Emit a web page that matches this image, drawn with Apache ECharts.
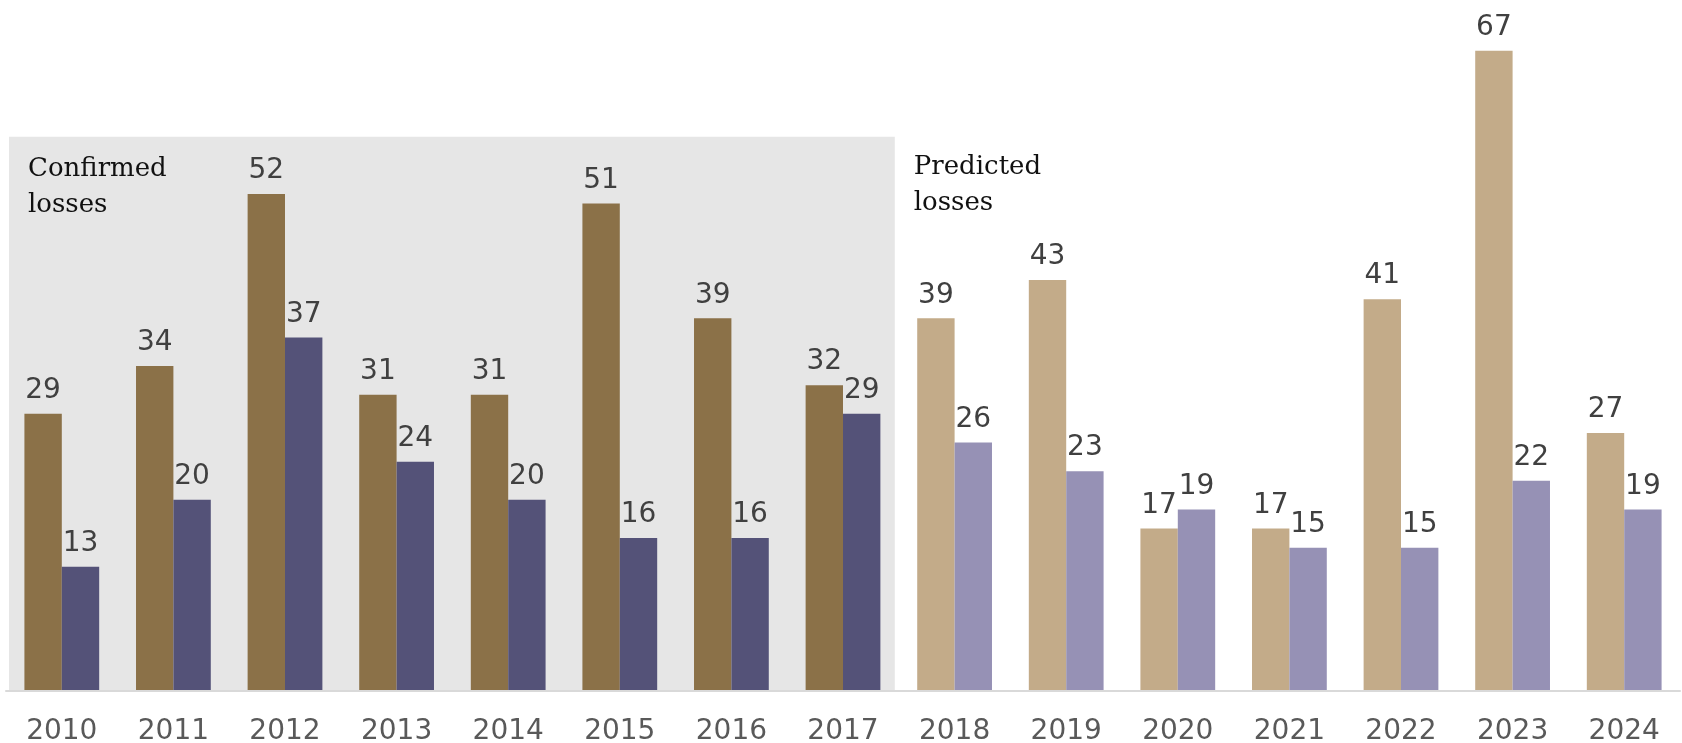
<!DOCTYPE html>
<html>
<head>
<meta charset="utf-8">
<script src="https://cdn.jsdelivr.net/npm/echarts@6/dist/echarts.min.js"></script>
<style>
html,body{margin:0;padding:0;background:#fff;}
#chart{width:1682px;height:743px;}
</style>
</head>
<body>
<div id="chart"></div>
<script>
const categories = ['2010','2011','2012','2013','2014','2015','2016','2017','2018','2019','2020','2021','2022','2023','2024'];
const seriesA = [29,34,52,31,31,51,39,32,39,43,17,17,41,67,27];
const seriesB = [13,20,37,24,20,16,16,29,26,23,19,15,15,22,19];
const confirmedCount = 8;
const annotationConfirmed = 'Confirmed\nlosses';
const annotationPredicted = 'Predicted\nlosses';

const colorsA = ['#8B7148', '#C3AB89'];
const colorsB = ['#545278', '#9691B5'];

const chart = echarts.init(document.getElementById('chart'), null, {renderer: 'canvas'});

const labelStyle = {
  show: true,
  position: 'top',
  distance: 9,
  fontSize: 28,
  fontFamily: 'DejaVu Sans',
  color: '#404040'
};

chart.setOption({
  animation: false,
  backgroundColor: '#ffffff',
  grid: {left: 6, right: 2, top: 22, bottom: 52, containLabel: false, outerBoundsMode: 'none'},
  xAxis: {
    type: 'category',
    data: categories,
    axisLine: {show: true, lineStyle: {color: '#d9d9d9', width: 2}},
    axisTick: {show: false},
    axisLabel: {fontSize: 28, fontFamily: 'DejaVu Sans', color: '#595959', margin: 27},
    z: 5
  },
  yAxis: {type: 'value', min: 0, max: 70, show: false, splitLine: {show: false}},
  series: [
    {
      type: 'bar', name: 'A', barGap: '0%', barCategoryGap: '33%',
      data: seriesA.map((v, i) => ({value: v, itemStyle: {color: colorsA[i < confirmedCount ? 0 : 1]}})),
      label: labelStyle, z: 3
    },
    {
      type: 'bar', name: 'B', barGap: '0%', barCategoryGap: '33%',
      data: seriesB.map((v, i) => ({value: v, itemStyle: {color: colorsB[i < confirmedCount ? 0 : 1]}})),
      label: labelStyle, z: 3
    }
  ]
});

function layoutExtras() {
  const x0 = chart.convertToPixel({xAxisIndex: 0}, categories[0]);
  const x1 = chart.convertToPixel({xAxisIndex: 0}, categories[1]);
  const xLast = chart.convertToPixel({xAxisIndex: 0}, categories[confirmedCount - 1]);
  const xPred = chart.convertToPixel({xAxisIndex: 0}, categories[confirmedCount]);
  const step = x1 - x0;
  const yTop = chart.convertToPixel({yAxisIndex: 0}, 58);
  const yBase = chart.convertToPixel({yAxisIndex: 0}, 0);
  const left = x0 - step / 2 + 3;
  const right = xLast + step / 2 - 4;
  chart.setOption({
    graphic: [
      {type: 'rect', id: 'bg', z: -10, silent: true,
       shape: {x: left, y: yTop, width: right - left, height: yBase - yTop},
       style: {fill: '#e6e6e6'}},
      {type: 'text', id: 't1', z: 10, left: left + 19, top: yTop + 15,
       style: {text: annotationConfirmed, fontSize: 26, fontFamily: 'DejaVu Serif', fill: '#111', lineHeight: 36}},
      {type: 'text', id: 't2', z: 10, left: xPred - step / 2 + 15, top: yTop + 13,
       style: {text: annotationPredicted, fontSize: 26, fontFamily: 'DejaVu Serif', fill: '#111', lineHeight: 36}}
    ]
  });
}
layoutExtras();
</script>
</body>
</html>
